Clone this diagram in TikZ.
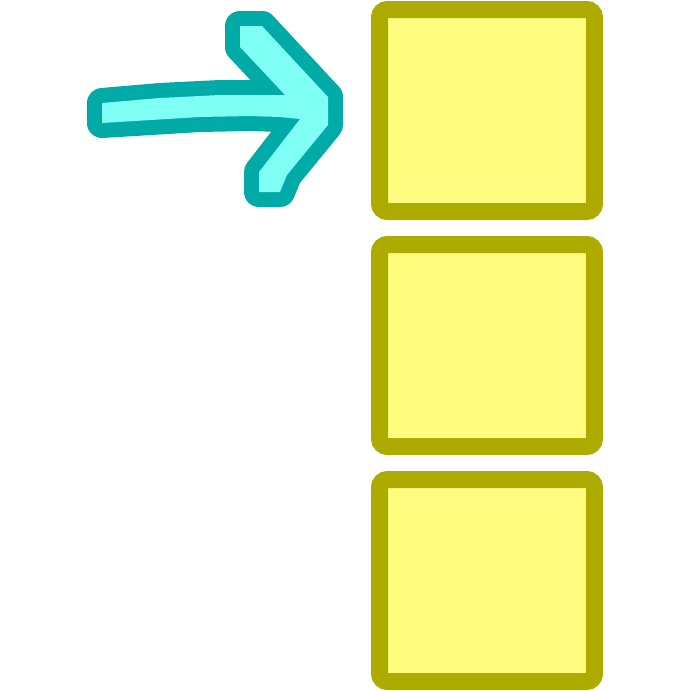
\documentclass[tikz,border=0pt]{standalone}
\usepackage{tikz}
\usetikzlibrary{positioning}
\definecolor{olivebox}{RGB}{173,170,0}
\definecolor{yellowbox}{RGB}{255,252,128}
\definecolor{tealline}{RGB}{0,170,166}
\definecolor{cyanfill}{RGB}{128,255,245}
\tikzset{
    slotnode/.style = {draw=olivebox, fill=yellowbox, rectangle, line width=17pt, rounded corners=8pt,
      minimum width=215pt, minimum height=202pt, inner sep=0pt, outer sep=0pt},
    pointer/.style = {fill=cyanfill, preaction={draw=tealline, line width=30pt, line join=round}}
}
\begin{document}
\begin{tikzpicture}[x=1pt, y=-1pt]
\useasboundingbox (0,0) rectangle (691,691);

\node[slotnode, name=slot1] at (487,110.5) {};
\node[slotnode, name=slot2, below=33pt of slot1] {};
\node[slotnode, name=slot3, below=33pt of slot2] {};

% arrow pointing at the first slot
\path[pointer] (102,103) -- (160,98) -- (220,95) -- (285,95) -- (240,47) -- (240,26) -- (262,26)
	-- (328,97) -- (328,125) -- (287,175) -- (280,192) -- (259,192) -- (259,172)
	-- (300,119) -- (280,117) -- (250,116) -- (200,117) -- (102,123) -- cycle;
\end{tikzpicture}
\end{document}
